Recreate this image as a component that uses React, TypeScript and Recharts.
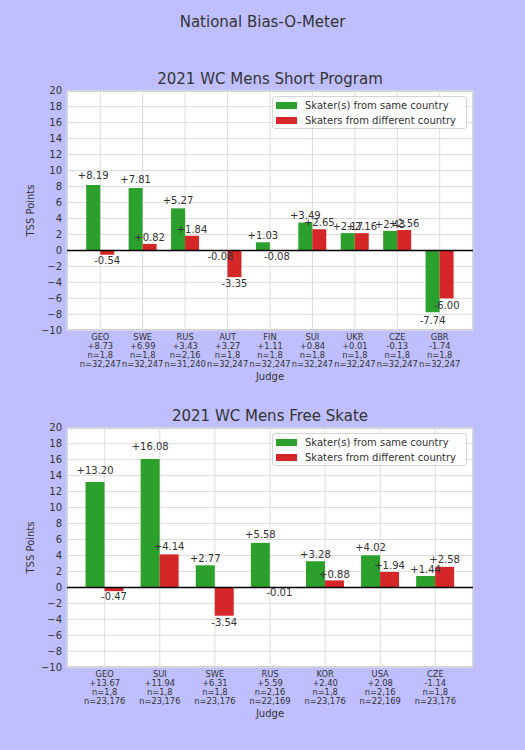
import { BarChart, Bar, XAxis, YAxis, CartesianGrid, ReferenceLine, LabelList, Legend, Label } from 'recharts'

// 2021 WC Mens Short Program
const spJudges = ['GEO', 'SWE', 'RUS', 'AUT', 'FIN', 'SUI', 'UKR', 'CZE', 'GBR']
const spBias = ['+8.73', '+6.99', '+3.43', '+3.27', '+1.11', '+0.84', '+0.01', '-0.13', '-1.74']
const spSameN = ['n=1,8', 'n=1,8', 'n=2,16', 'n=1,8', 'n=1,8', 'n=1,8', 'n=1,8', 'n=1,8', 'n=1,8']
const spOtherN = ['n=32,247', 'n=32,247', 'n=31,240', 'n=32,247', 'n=32,247', 'n=32,247', 'n=32,247', 'n=32,247', 'n=32,247']
const spSame = [8.19, 7.81, 5.27, -0.08, 1.03, 3.49, 2.17, 2.43, -7.74]
const spOther = [-0.54, 0.82, 1.84, -3.35, -0.08, 2.65, 2.16, 2.56, -6.0]

// 2021 WC Mens Free Skate
const fsJudges = ['GEO', 'SUI', 'SWE', 'RUS', 'KOR', 'USA', 'CZE']
const fsBias = ['+13.67', '+11.94', '+6.31', '+5.59', '+2.40', '+2.08', '-1.14']
const fsSameN = ['n=1,8', 'n=1,8', 'n=1,8', 'n=2,16', 'n=1,8', 'n=2,16', 'n=1,8']
const fsOtherN = ['n=23,176', 'n=23,176', 'n=23,176', 'n=22,169', 'n=23,176', 'n=22,169', 'n=23,176']
const fsSame = [13.2, 16.08, 2.77, 5.58, 3.28, 4.02, 1.44]
const fsOther = [-0.47, 4.14, -3.54, -0.01, 0.88, 1.94, 2.58]

const yTicks = [-10, -8, -6, -4, -2, 0, 2, 4, 6, 8, 10, 12, 14, 16, 18, 20]

const GREEN = '#2ca02c'
const RED = '#d62728'
const TEXT = '#333333'

interface Row {
  judge: string
  bias: string
  sameN: string
  otherN: string
  same: number
  other: number
}

const buildRows = (judges: string[], bias: string[], sameN: string[], otherN: string[], same: number[], other: number[]): Row[] =>
  judges.map((judge, i) => ({ judge, bias: bias[i], sameN: sameN[i], otherN: otherN[i], same: same[i], other: other[i] }))

const spRows = buildRows(spJudges, spBias, spSameN, spOtherN, spSame, spOther)
const fsRows = buildRows(fsJudges, fsBias, fsSameN, fsOtherN, fsSame, fsOther)

const fmt = (v: number) => (v >= 0 ? `+${v.toFixed(2)}` : v.toFixed(2))

function ValueLabel(props: any) {
  const { x, y, width, height, value } = props
  const v = Number(value)
  const top = Math.min(y, y + height)
  const bottom = Math.max(y, y + height)
  const cy = v >= 0 ? top - (6 + 0.4 * v) : bottom + (5 + 0.35 * Math.abs(v))
  return (
    <text x={x + width / 2} y={cy} dy="0.36em" textAnchor="middle" fontSize={10} fill={TEXT}>
      {fmt(v)}
    </text>
  )
}

function makeTick(rows: Row[]) {
  return function JudgeTick(props: any) {
    const { x, y, payload } = props
    const r = rows.find(d => d.judge === payload.value)
    if (!r) return null
    const lines = [r.judge, r.bias, r.sameN, r.otherN]
    return (
      <text x={x} y={y} textAnchor="middle" fontSize={8.3} fill={TEXT}>
        {lines.map((l, i) => (
          <tspan key={i} x={x} dy={i === 0 ? 10 : 8.9}>{l}</tspan>
        ))}
      </text>
    )
  }
}

function LegendBox(props: any) {
  const items = props.payload || []
  return (
    <div
      style={{
        width: 195,
        height: 33,
        boxSizing: 'border-box',
        border: '1px solid #d4d4d4',
        borderRadius: 3,
        background: 'rgba(255,255,255,0.85)',
        paddingTop: 1,
        fontSize: 10,
        color: TEXT,
      }}
    >
      {items.map((it: any) => (
        <div key={it.value} style={{ display: 'flex', alignItems: 'center', height: 15 }}>
          <span style={{ display: 'inline-block', width: 21, height: 7, marginLeft: 3, marginRight: 8, background: it.color }} />
          <span>{it.value}</span>
        </div>
      ))}
    </div>
  )
}

interface ChartProps {
  title: string
  rows: Row[]
  top: number
  pad: number
  gap: number
}

const W = 525
const H = 390
const PLOT_LEFT = 67
const PLOT_RIGHT = 473
const PLOT_TOP = 90.7
const PLOT_BOTTOM = 330.3

function BiasChart({ title, rows, top, pad, gap }: ChartProps) {
  return (
    <div style={{ position: 'absolute', left: 0, top, width: W, height: H }}>
      <div
        style={{
          position: 'absolute',
          left: PLOT_LEFT,
          top: PLOT_TOP,
          width: PLOT_RIGHT - PLOT_LEFT,
          height: PLOT_BOTTOM - PLOT_TOP,
          background: '#fff',
          boxSizing: 'border-box',
          border: '1px solid #d0d0d0',
        }}
      />
      <svg width={W} height={H} style={{ position: 'absolute', left: 0, top: 0 }}>
        <text x={(PLOT_LEFT + PLOT_RIGHT) / 2} y={PLOT_TOP - 6.4} textAnchor="middle" fontSize={15} fill={TEXT}>
          {title}
        </text>
      </svg>
      <div style={{ position: 'absolute', left: 0, top: 0 }}>
        <BarChart
          width={W}
          height={H}
          data={rows}
          margin={{ top: PLOT_TOP, right: W - PLOT_RIGHT, bottom: H - PLOT_BOTTOM - 45, left: PLOT_LEFT - 45 }}
          barGap={0}
          barCategoryGap={gap}
        >
          <CartesianGrid stroke="#dcdcdc" strokeWidth={1} />
          <XAxis
            dataKey="judge"
            type="category"
            interval={0}
            height={45}
            padding={{ left: pad, right: pad }}
            tickLine={false}
            axisLine={false}
            tickSize={0}
            tickMargin={0}
            tick={makeTick(rows)}
          >
            <Label
              content={(p: any) => {
                const vb = p.viewBox || {}
                return (
                  <text x={vb.x + vb.width / 2} y={vb.y + 50} textAnchor="middle" fontSize={10} fill={TEXT}>
                    Judge
                  </text>
                )
              }}
            />
          </XAxis>
          <YAxis
            type="number"
            domain={[-10, 20]}
            ticks={yTicks}
            width={45}
            tickLine={false}
            axisLine={false}
            tickSize={0}
            tickMargin={5}
            interval={0}
            tick={{ fill: TEXT, fontSize: 10 }}
            tickFormatter={(v: number) => (v < 0 ? `\u2212${-v}` : `${v}`)}
          >
            <Label
              content={(p: any) => {
                const vb = p.viewBox || {}
                const cx = vb.x + 8
                const cy = vb.y + vb.height / 2
                return (
                  <text x={cx} y={cy} dy="0.36em" textAnchor="middle" fontSize={10} fill={TEXT} transform={`rotate(-90 ${cx} ${cy})`}>
                    TSS Points
                  </text>
                )
              }}
            />
          </YAxis>
          <Legend
            layout="horizontal"
            verticalAlign="middle"
            align="center"
            content={<LegendBox />}
            wrapperStyle={{ position: 'absolute', left: 272, top: 96, width: 195, height: 33 }}
          />
          <Bar dataKey="same" name="Skater(s) from same country" fill={GREEN} isAnimationActive={false}>
            <LabelList dataKey="same" content={<ValueLabel />} />
          </Bar>
          <Bar dataKey="other" name="Skaters from different country" fill={RED} isAnimationActive={false}>
            <LabelList dataKey="other" content={<ValueLabel />} />
          </Bar>
          <ReferenceLine y={0} stroke="#000" strokeWidth={1.6} />
        </BarChart>
      </div>
    </div>
  )
}

export default function App() {
  return (
    <div
      style={{
        position: 'relative',
        width: 525,
        height: 750,
        background: '#bfbfff',
        overflow: 'hidden',
        fontFamily: '"DejaVu Sans", sans-serif',
      }}
    >
      <style>{'body{margin:0}'}</style>
      <svg width={525} height={40} style={{ position: 'absolute', left: 0, top: 0 }}>
        <text x={262.5} y={26.7} textAnchor="middle" fontSize={15} fill={TEXT}>
          National Bias-O-Meter
        </text>
      </svg>
      <BiasChart title="2021 WC Mens Short Program" rows={spRows} top={0} pad={12.1} gap={7.1} />
      <BiasChart title="2021 WC Mens Free Skate" rows={fsRows} top={337} pad={10.15} gap={8.4} />
    </div>
  )
}
